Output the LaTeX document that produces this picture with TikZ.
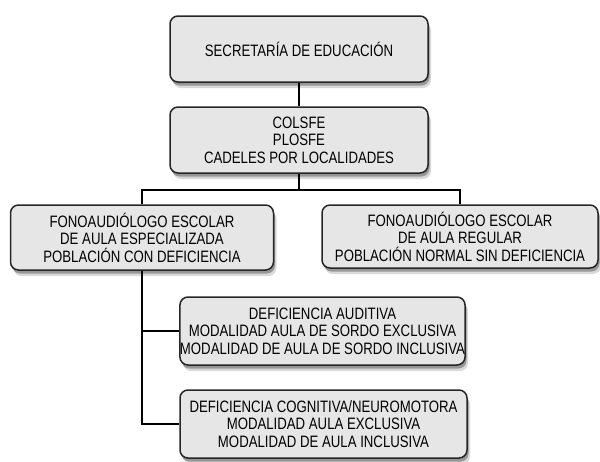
\documentclass[tikz,border=0pt]{standalone}
\usepackage{fontspec}
\setmainfont{Liberation Sans}[FakeStretch=0.8]
\usetikzlibrary{shadows}

\definecolor{boxfill}{HTML}{E6E6E6}
\definecolor{boxline}{HTML}{262626}

\tikzset{
  orgbox/.style={draw=boxline, line width=1.5pt, fill=boxfill, rounded corners=8pt,
    align=center, inner sep=0pt,
    font=\fontsize{16.5}{17.5}\selectfont,
    drop shadow={shadow xshift=3pt, shadow yshift=-6pt, opacity=0.15, fill=black},
    drop shadow={shadow xshift=1.5pt, shadow yshift=-3.5pt, opacity=0.3, fill=black}},
  link/.style={line width=2.2pt, black}
}

\begin{document}
\begin{tikzpicture}[x=1pt,y=-1pt]

\useasboundingbox (0,0) rectangle (600,461);

\node[orgbox, minimum width=258pt, minimum height=66pt] (sec) at (299,49)
  {SECRETARÍA DE EDUCACIÓN};
\node[orgbox, minimum width=258pt, minimum height=66pt] (org) at (299,140)
  {COLSFE\\PLOSFE\\CADELES POR LOCALIDADES};

\node[orgbox, minimum width=263pt, minimum height=65pt] (esp) at (142,237.5)
  {FONOAUDIÓLOGO ESCOLAR\\DE AULA ESPECIALIZADA\\POBLACIÓN CON DEFICIENCIA};
\node[orgbox, minimum width=276pt, minimum height=63pt] (reg) at (460,236.5)
  {FONOAUDIÓLOGO ESCOLAR\\DE AULA REGULAR\\POBLACIÓN NORMAL SIN DEFICIENCIA};

\node[orgbox, minimum width=285pt, minimum height=68pt] (aud) at (322.5,331)
  {DEFICIENCIA AUDITIVA\\MODALIDAD AULA DE SORDO EXCLUSIVA\\MODALIDAD DE AULA DE SORDO INCLUSIVA};
\node[orgbox, minimum width=287pt, minimum height=68pt] (cog) at (323.5,424)
  {DEFICIENCIA COGNITIVA/NEUROMOTORA\\MODALIDAD AULA EXCLUSIVA\\MODALIDAD DE AULA INCLUSIVA};

\coordinate (split) at (299,190);

\draw[link] (sec) -- (org);
\draw[link] (org) -- (split);
\draw[link] (esp.north) |- (split) -| (reg.north);

\draw[link] (esp.south) |- (aud.west);
\draw[link] (esp.south) |- (cog.west);

\end{tikzpicture}
\end{document}
